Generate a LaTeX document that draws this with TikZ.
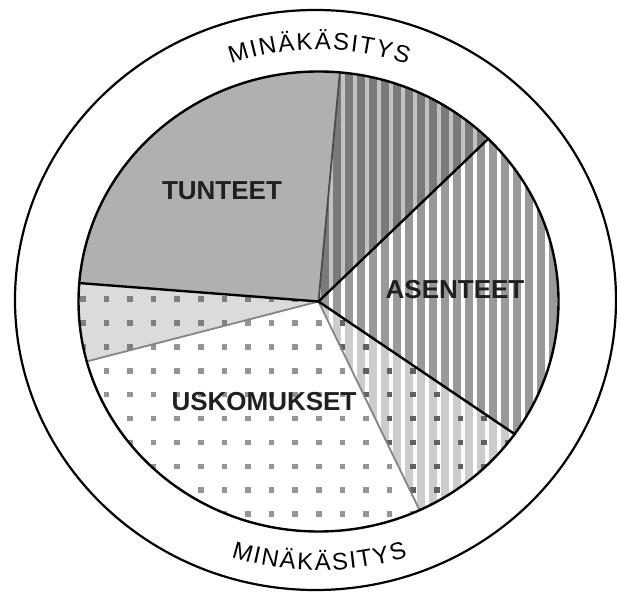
\documentclass[tikz,border=0pt]{standalone}
\usepackage{fontspec}
\setmainfont{Liberation Sans}
\newfontfamily\arcfont{Liberation Sans}
\usepackage{xcolor}
\usetikzlibrary{calc,decorations.text}

\definecolor{labeltext}{HTML}{231F20}
\newcommand{\piesector}[2]{(pc) -- ($(pc)+(#1:240 and 230)$)
  arc[start angle=#1, end angle=#2, x radius=240, y radius=230] -- cycle}
\newcommand{\dotgrid}{\foreach \dx in {0,...,19}
  \foreach \dy in {0,...,9}
    \fill (82.7+23.6*\dx-2.8, 293-23.9*\dy-2.8) rectangle ++(5.6,5.6);}
\newcommand{\stripes}[1]{\foreach \sx in {319,331,...,559}
  \fill[#1] (\sx-1.6,0) rectangle (\sx+1.6,592);}

\begin{document}
\begin{tikzpicture}[x=1pt, y=1pt]
  \tikzstyle{blackline}=[draw=black, line width=2.4pt, line cap=round]
  \tikzstyle{grayline}=[line width=1.8pt, line cap=round]
  \tikzstyle{plabel}=[font=\fontsize{26}{30}\selectfont\bfseries, text=labeltext]
  \tikzstyle{arctext}=[decorate, decoration={text along path, text align=center,
                       text={|\arcfont\fontsize{24}{28}\selectfont\kern1.8pt|MINÄKÄSITYS}}]

  \useasboundingbox (0,0) rectangle (617,592);
  \fill[white] (0,0) rectangle (617,592);

  \coordinate (pc) at (318.5,290.5);
  \coordinate (oc) at (315.5,292);
  \coordinate (r1) at ($(pc)+(84.9:240 and 230)$);
  \coordinate (r2) at ($(pc)+(45:240 and 230)$);
  \coordinate (r3) at ($(pc)+(-35.2:240 and 230)$);
  \coordinate (r4) at ($(pc)+(-65.1:240 and 230)$);
  \coordinate (r5) at ($(pc)+(195.1:240 and 230)$);
  \coordinate (r6) at ($(pc)+(175.4:240 and 230)$);

  % sectors
  \fill[black!31] \piesector{84.9}{175.4};
  \fill[black!14] \piesector{175.4}{195.1};
  \fill[white]    \piesector{195.1}{294.9};
  \fill[black!20] \piesector{294.9}{324.8};
  \fill[black!40] \piesector{-35.2}{45};
  \fill[black!52] \piesector{45}{84.9};

  \begin{scope}
    \clip \piesector{45}{84.9};
    \stripes{black!24}
  \end{scope}
  \begin{scope}
    \clip \piesector{-35.2}{45};
    \stripes{white}
  \end{scope}
  \begin{scope}
    \clip \piesector{294.9}{324.8};
    \stripes{white}
    \begin{scope}[black!62]
      \dotgrid
    \end{scope}
  \end{scope}
  \begin{scope}
    \clip \piesector{195.1}{294.9};
    \begin{scope}[black!42]
      \dotgrid
    \end{scope}
  \end{scope}
  \begin{scope}
    \clip \piesector{175.4}{195.1};
    \begin{scope}[black!50]
      \dotgrid
    \end{scope}
  \end{scope}

  \draw[grayline, black!70] (pc) -- (r1);
  \draw[grayline, black!48] (pc) -- (r4);
  \draw[grayline, black!48] (pc) -- (r5);
  \draw[blackline] (pc) -- (r2);
  \draw[blackline] (pc) -- (r3);
  \draw[blackline] (pc) -- (r6);

  \draw[line width=2.4pt] (pc) ellipse[x radius=240, y radius=230];
  \draw[line width=2.2pt] (oc) ellipse[x radius=300.5, y radius=290];

  \node[plabel] (tunteet)    at (222,401) {TUNTEET};
  \node[plabel] (asenteet)   at (455,302) {ASENTEET};
  \node[plabel] (uskomukset) at (264,190) {USKOMUKSET};

  \path[arctext] ($(pc)+(152:262 and 252)$)
    arc[start angle=152, end angle=28, x radius=262, y radius=252];
  \path[arctext] ($(pc)+(208:279 and 269)$)
    arc[start angle=208, end angle=332, x radius=279, y radius=269];
\end{tikzpicture}
\end{document}
